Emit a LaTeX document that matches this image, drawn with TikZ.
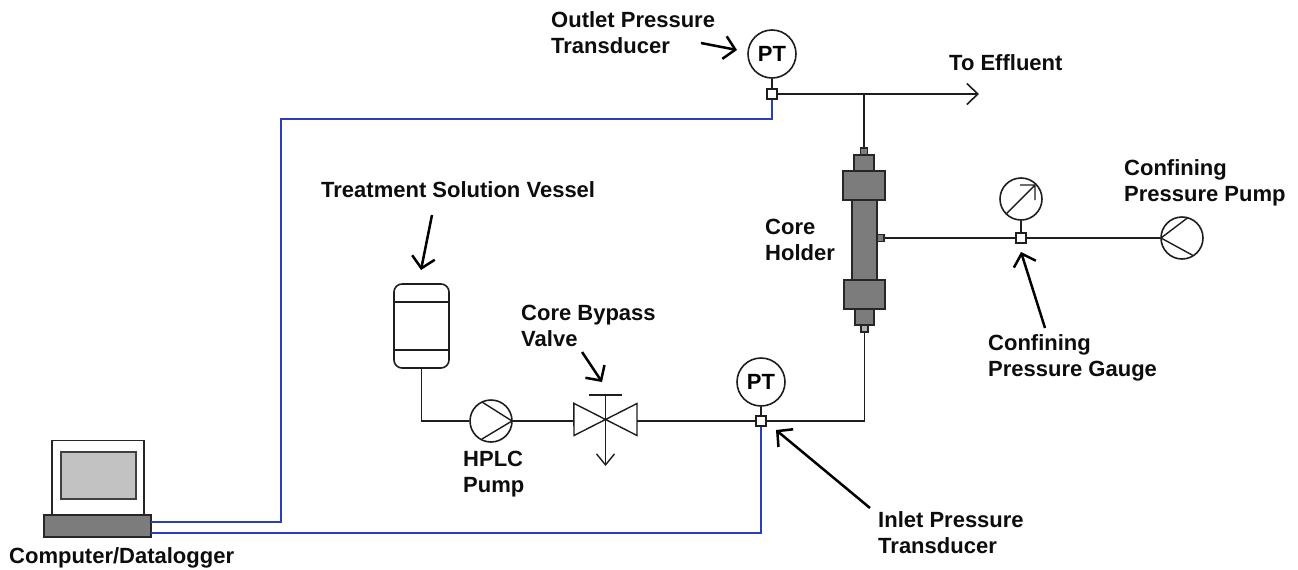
\documentclass[tikz,border=0pt]{standalone}
\usepackage{fontspec}
\setmainfont{Liberation Sans}
\usetikzlibrary{arrows.meta}
\definecolor{wire}{HTML}{2B3FB8}
\definecolor{pipe}{HTML}{1E1E1E}
\definecolor{metal}{HTML}{7C7C7C}
\definecolor{screen}{HTML}{C2C2C2}
\tikzset{
  x=1pt,y=-1pt,
  lbl/.style={font=\fontsize{22}{26}\selectfont\bfseries,align=left,anchor=west,inner sep=0pt,text=black!95},
  pipeline/.style={draw=pipe,line width=1.7pt},
  wireline/.style={draw=wire,line width=1.8pt},
  leader/.style={draw=black,line width=2.5pt,-{Straight Barb[length=11pt,width=23pt,line width=2.5pt]}},
  endarrow/.style={draw=pipe,line width=1.6pt,-{Straight Barb[length=11pt,width=21pt,line width=1.6pt]}},
  instrument/.style={circle,draw=pipe,line width=1.6pt,inner sep=0pt,fill=white,minimum size=#1},
  ptlabel/.style={instrument=48pt,font=\fontsize{22}{26}\selectfont\bfseries},
  junction/.style={rectangle,draw=pipe,line width=1.6pt,fill=white,inner sep=0pt,minimum width=9.5pt,minimum height=9.5pt},
  part/.style={rectangle,draw=black!85,line width=1.7pt,fill=metal,inner sep=0pt},
  hollow/.style={rectangle,draw=none,inner sep=0pt},
}
\begin{document}
\begin{tikzpicture}
\useasboundingbox (0,0) rectangle (1298,570);

% core holder
\node[part,minimum width=25pt,minimum height=80pt] (corebody) at (864.5,240) {};
\node[part,minimum width=42pt,minimum height=29pt] (flangetop) at (864,185.5) {};
\node[part,minimum width=41pt,minimum height=29pt] (flangebot) at (864.5,294.5) {};
\node[part,minimum width=20pt,minimum height=16pt] (necktop) at (864,163) {};
\node[part,minimum width=19pt,minimum height=16pt] (neckbot) at (864.5,317) {};
\node[part,minimum width=7pt,minimum height=7pt] (porttop) at (864,151.5) {};
\node[part,fill=black!30,minimum width=7pt,minimum height=7pt] (portbot) at (864.5,328.5) {};
\node[part,minimum width=7pt,minimum height=7pt] (portside) at (880.5,238) {};

% instruments and fittings
\node[ptlabel] (ptout) at (772,54) {PT};
\node[ptlabel] (ptin) at (761,382) {PT};
\node[junction] (jout) at (772,94) {};
\node[junction] (jin) at (761,421) {};
\node[junction] (jconf) at (1021,238) {};
\node[instrument=42pt] (gauge) at (1021,199) {};
\node[instrument=42pt] (confpump) at (1182,238) {};
\node[instrument=42pt] (hplc) at (491,421) {};
\node[hollow,minimum width=63pt,minimum height=32pt] (valve) at (605.5,419.5) {};
\node[rectangle,draw=pipe,line width=1.6pt,rounded corners=8pt,fill=white,minimum width=55pt,minimum height=84pt,inner sep=0pt] (vessel) at (421.5,326) {};
\coordinate (tee) at (864,94);
\coordinate (effluent) at (979,94);

% computer
\node[rectangle,draw=black!85,line width=1.6pt,fill=white,minimum width=92pt,minimum height=74pt,inner sep=0pt] (monitor) at (98,477.5) {};
\node[rectangle,draw=black!75,line width=1.6pt,fill=screen,minimum width=75pt,minimum height=47pt,inner sep=0pt] (screenbox) at (98.5,475.5) {};
\node[part,minimum width=107pt,minimum height=22pt] (base) at (97.5,526) {};
\coordinate (wireA) at (151,522);
\coordinate (wireB) at (151,533);
\coordinate (wireC) at (281,119);

% symbol details
\draw[pipeline,line width=1.4pt] (1006.5,213.5) -- (1035,185) (1020,185) -- (1035,185) -- (1035,200);
\draw[pipeline,line width=1.4pt] (1188,217.5) -- (1161,238) -- (1193,255.5);
\draw[pipeline,line width=1.4pt] (482,402) -- (512,421) -- (482,439);
\draw[pipeline,line width=1.4pt] (valve.north west) -- (637,435.5) -- (637,403.5) -- (574,435.5) -- cycle;
\draw[pipeline,line width=1.4pt] (394,302) -- (449,302) (394,350) -- (449,350);
\draw[pipeline,line width=1.4pt] (589,395) -- (622,395);
\draw[pipeline,line width=1.4pt,-{Straight Barb[length=11pt,width=18pt,line width=1.4pt]}] (valve.center |- 0,395) -- (605.5,466);

% pipes
\draw[pipeline] (jout) -- (ptout);
\draw[pipeline] (jin) -- (ptin);
\draw[pipeline] (jconf) -- (gauge);
\draw[pipeline] (portside) -- (jconf);
\draw[pipeline] (jconf) -- (confpump);
\draw[pipeline] (vessel.south) |- (hplc.west);
\draw[pipeline] (hplc.east) -- (valve.west |- hplc.east);
\draw[pipeline] (valve.east |- jin) -- (jin);
\draw[pipeline] (jin) -| (portbot);
\draw[pipeline] (tee) -- (porttop);
\draw[endarrow] (jout) -- (effluent);

% signal wires
\draw[wireline] (wireA) -| (wireC) -| (jout.south);
\draw[wireline] (wireB) -| (jin.south);

% leaders
\coordinate (l1a) at (701,43); \coordinate (l1b) at (737,50);
\coordinate (l2a) at (432,215); \coordinate (l2b) at (421,270);
\coordinate (l3a) at (582,352); \coordinate (l3b) at (602,382);
\coordinate (l4a) at (870,508); \coordinate (l4b) at (776,430);
\coordinate (l5a) at (1045,328); \coordinate (l5b) at (1021,252);
\draw[leader] (l1a) -- (l1b);
\draw[leader] (l2a) -- (l2b);
\draw[leader] (l3a) -- (l3b);
\draw[leader] (l4a) -- (l4b);
\draw[leader] (l5a) -- (l5b);

% labels
\node[lbl] (t1) at (551,33) {Outlet Pressure\\Transducer};
\node[lbl] (t2) at (949,63) {To Effluent};
\node[lbl] (t3) at (1124,183) {Confining\\Pressure Pump};
\node[lbl] (t4) at (765,240) {Core\\Holder};
\node[lbl] (t5) at (321,190) {Treatment Solution Vessel};
\node[lbl] (t6) at (521,326) {Core Bypass\\Valve};
\node[lbl] (t7) at (463,474.5) {HPLC\\Pump};
\node[lbl] (t8) at (988,358) {Confining\\Pressure Gauge};
\node[lbl] (t9) at (878,533) {Inlet Pressure\\Transducer};
\node[lbl] (t10) at (9,558) {Computer/Datalogger};
\end{tikzpicture}
\end{document}
